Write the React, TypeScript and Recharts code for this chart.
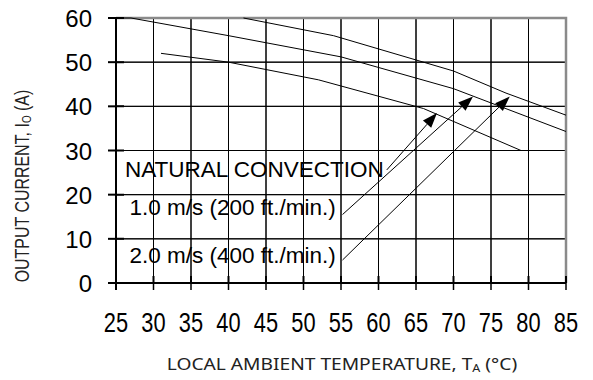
import {
    LineChart,
    Line,
    XAxis,
    YAxis,
    CartesianGrid,
    ReferenceLine,
    ReferenceDot,
    Label,
} from "recharts";

const xTicks = [25, 30, 35, 40, 45, 50, 55, 60, 65, 70, 75, 80, 85];
const yTicks = [0, 10, 20, 30, 40, 50, 60];

// natural convection
const naturalTemp = [31, 40, 52, 66, 79];
const naturalCurrent = [52, 50, 46, 39.5, 30];

// 1.0 m/s (200 ft./min.)
const oneTemp = [25, 27, 40, 55, 70, 85];
const oneCurrent = [60, 60, 56, 51.2, 44, 34.3];

// 2.0 m/s (400 ft./min.)
const twoTemp = [42, 54, 70, 77, 85];
const twoCurrent = [60, 56, 48, 43, 38];

// one table on a shared temperature column, gaps left as null
const allTemps = Array.from(new Set([...naturalTemp, ...oneTemp, ...twoTemp])).sort(
    (a, b) => a - b
);
const pick = (xs: number[], ys: number[], t: number) => {
    const i = xs.indexOf(t);
    return i < 0 ? null : ys[i];
};
const data = allTemps.map((t) => ({
    temp: t,
    natural: pick(naturalTemp, naturalCurrent, t),
    one: pick(oneTemp, oneCurrent, t),
    two: pick(twoTemp, twoCurrent, t),
}));

// annotation labels (anchor at text start / baseline) and arrows
const labels = [
    { text: "NATURAL CONVECTION", t: 26.2, i: 24.0, size: 22.5 },
    { text: "1.0 m/s (200 ft./min.)", t: 26.8, i: 15.4, size: 22.5 },
    { text: "2.0 m/s (400 ft./min.)", t: 26.8, i: 4.5, size: 22.5 },
];
const arrows = [
    { from: [61.1, 25.6], to: [67.8, 38.5] },
    { from: [55.2, 15.5], to: [72.6, 42.2] },
    { from: [55.2, 5.2], to: [77.5, 42.2] },
];

const X0 = xTicks[0];
const X1 = xTicks[xTicks.length - 1];
const Y0 = yTicks[0];
const Y1 = yTicks[yTicks.length - 1];

// interior reference segment used to place the grid (kept inside the domain)
const gridRef = { a: [30, 10], b: [80, 50] };

const FONT = "'Liberation Sans', Arial, Helvetica, sans-serif";

function XTick(props: any) {
    const { x, y, payload } = props;
    return (
        <g transform={`translate(${x},${y})`}>
            <text
                transform="scale(0.78,1)"
                textAnchor="middle"
                dy={16}
                fontSize={28}
                fontFamily={FONT}
                fill="#000"
            >
                {payload.value}
            </text>
        </g>
    );
}

function YTick(props: any) {
    const { x, y, payload } = props;
    return (
        <text
            x={x}
            y={y}
            dy={9}
            textAnchor="end"
            fontSize={24}
            fontFamily={FONT}
            fill="#000"
        >
            {payload.value}
        </text>
    );
}

function Arrow(props: any) {
    const { x1, y1, x2, y2 } = props;
    const a = Math.atan2(y2 - y1, x2 - x1);
    const L = 15;
    const W = 5.5;
    const bx = x2 - L * Math.cos(a);
    const by = y2 - L * Math.sin(a);
    const px = -Math.sin(a) * W;
    const py = Math.cos(a) * W;
    return (
        <g>
            <line x1={x1} y1={y1} x2={bx} y2={by} stroke="#000" strokeWidth={1} />
            <polygon
                points={`${x2},${y2} ${bx + px},${by + py} ${bx - px},${by - py}`}
                fill="#000"
            />
        </g>
    );
}

// grid, frame and inner tick halves, placed from the scaled reference segment
function Grid(props: any) {
    const { x1, y1, x2, y2 } = props;
    const [ta, va] = gridRef.a;
    const [tb, vb] = gridRef.b;
    const px = (t: number) => x1 + ((t - ta) / (tb - ta)) * (x2 - x1);
    const py = (v: number) => y1 + ((v - va) / (vb - va)) * (y2 - y1);
    const L = px(X0);
    const R = px(X1);
    const B = py(Y0);
    const T = py(Y1);
    const inner =
        xTicks
            .slice(1, -1)
            .map((t) => `M${px(t)},${B}V${T}`)
            .join("") +
        yTicks
            .slice(1, -1)
            .map((v) => `M${L},${py(v)}H${R}`)
            .join("");
    return (
        <g>
            <path d={inner} stroke="#000" strokeWidth={1} fill="none" />
            <path
                d={`M${L},${T}H${R}V${B}`}
                stroke="#8a8a8a"
                strokeWidth={2.5}
                fill="none"
            />
            <path
                d={`M${L - 8},${B}H${R}M${L},${B + 7}V${T}`}
                stroke="#000"
                strokeWidth={2}
                fill="none"
            />
            <path
                d={
                    yTicks.map((v) => `M${L},${py(v)}H${L + 8}`).join("") +
                    xTicks.map((t) => `M${px(t)},${B}V${B - 7}`).join("")
                }
                stroke="#000"
                strokeWidth={2}
                fill="none"
            />
        </g>
    );
}

export default function App() {
    return (
        <div style={{ position: "absolute", left: 0, top: 0, background: "#fff" }}>
            <LineChart
                width={593}
                height={380}
                data={data}
                margin={{ top: 18, right: 27, left: 0, bottom: 0 }}
            >
                <CartesianGrid stroke="#000" strokeWidth={1} />
                <XAxis
                    dataKey="temp"
                    type="number"
                    domain={[X0, X1]}
                    ticks={xTicks}
                    interval={0}
                    height={97}
                    tickSize={7}
                    tickMargin={26}
                    axisLine={{ stroke: "#000", strokeWidth: 2 }}
                    tickLine={{ stroke: "#000", strokeWidth: 1.5 }}
                    tick={<XTick />}
                >
                    <Label
                        content={() => (
                            <text
                                transform="translate(342,370) scale(1.2,1)"
                                textAnchor="middle"
                                fontSize={16}
                                fontFamily="'Noto Sans', sans-serif"
                                fill="#222"
                            >
                                LOCAL AMBIENT TEMPERATURE, T
                                <tspan fontSize={10.5} dy={2}>A</tspan>
                                <tspan dy={-2}> (°C)</tspan>
                            </text>
                        )}
                    />
                </XAxis>
                <YAxis
                    type="number"
                    domain={[Y0, Y1]}
                    ticks={yTicks}
                    interval={0}
                    width={116}
                    tickSize={8}
                    tickMargin={16}
                    axisLine={{ stroke: "#000", strokeWidth: 2 }}
                    tickLine={{ stroke: "#000", strokeWidth: 2 }}
                    tick={<YTick />}
                >
                    <Label
                        content={() => (
                            <text
                                transform="translate(29,186) rotate(-90) scale(0.76,1)"
                                textAnchor="middle"
                                fontSize={21}
                                fontFamily={FONT}
                                fill="#222"
                            >
                                OUTPUT CURRENT, I
                                <tspan fontSize={13} dy={2}>O</tspan>
                                <tspan dy={-2}> (A)</tspan>
                            </text>
                        )}
                    />
                </YAxis>
                <ReferenceLine
                    segment={[
                        { x: gridRef.a[0], y: gridRef.a[1] },
                        { x: gridRef.b[0], y: gridRef.b[1] },
                    ]}
                    shape={(p: any) => <Grid {...p} />}
                />
                <Line
                    dataKey="natural"
                    type="linear"
                    stroke="#000"
                    strokeWidth={1}
                    dot={false}
                    connectNulls
                    isAnimationActive={false}
                />
                <Line
                    dataKey="one"
                    type="linear"
                    stroke="#000"
                    strokeWidth={1}
                    dot={false}
                    connectNulls
                    isAnimationActive={false}
                />
                <Line
                    dataKey="two"
                    type="linear"
                    stroke="#000"
                    strokeWidth={1}
                    dot={false}
                    connectNulls
                    isAnimationActive={false}
                />
                {arrows.map((a, k) => (
                    <ReferenceLine
                        key={"a" + k}
                        segment={[
                            { x: a.from[0], y: a.from[1] },
                            { x: a.to[0], y: a.to[1] },
                        ]}
                        shape={(p: any) => <Arrow {...p} />}
                    />
                ))}
                {labels.map((l, k) => (
                    <ReferenceDot
                        key={"l" + k}
                        x={l.t}
                        y={l.i}
                        r={0}
                        shape={(p: any) => (
                            <text
                                x={p.cx}
                                y={p.cy}
                                fontSize={l.size}
                                fontFamily={FONT}
                                fill="#000"
                            >
                                {l.text}
                            </text>
                        )}
                    />
                ))}
            </LineChart>
        </div>
    );
}
